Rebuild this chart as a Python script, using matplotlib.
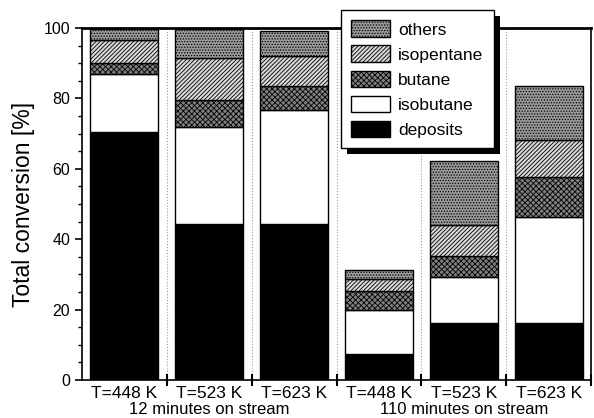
import matplotlib
matplotlib.use("Agg")
import matplotlib.pyplot as plt
from matplotlib.patches import Rectangle
from matplotlib.ticker import MultipleLocator

plt.rcParams['font.family'] = ['Liberation Sans', 'DejaVu Sans']
plt.rcParams['hatch.linewidth'] = 0.6

temps = ["T=448 K", "T=523 K", "T=623 K", "T=448 K", "T=523 K", "T=623 K"]
groups = ["12 minutes on stream", "110 minutes on stream"]

deposits = [70.4, 44.4, 44.4, 7.4, 16.2, 16.2]
isobutane = [16.5, 27.6, 32.2, 12.5, 13.1, 30.2]
butane = [3.1, 7.5, 6.9, 5.5, 6.0, 11.4]
isopentane = [6.6, 11.9, 8.5, 3.4, 8.6, 10.3]
others = [3.1, 8.3, 7.1, 2.5, 18.2, 15.4]

series = [
    ("deposits", deposits, "black", ""),
    ("isobutane", isobutane, "white", ""),
    ("butane", butane, "0.5", "xxxxxx"),
    ("isopentane", isopentane, "0.85", "////////"),
    ("others", others, "0.6", "......"),
]

fig = plt.figure(figsize=(5.94, 4.18), dpi=100)
ax = fig.add_axes([0.138, 0.091, 0.857, 0.842])

x = list(range(len(temps)))
bottom = [0.0] * len(temps)
handles = []
for name, vals, fc, hatch in series:
    bars = ax.bar(x, vals, width=0.8, bottom=bottom, color=fc, hatch=hatch,
                  edgecolor="black", linewidth=1.0, label=name)
    handles.append(bars)
    bottom = [b + v for b, v in zip(bottom, vals)]

# dotted separators between bars
for b in [0.5, 1.5, 2.5, 3.5, 4.5]:
    ax.axvline(b, color="0.6", linestyle=":", linewidth=0.8, zorder=0)

ax.set_xlim(-0.5, 5.5)
ax.set_ylim(0, 100)
ax.yaxis.set_major_locator(MultipleLocator(20))
ax.yaxis.set_minor_locator(MultipleLocator(5))
ax.tick_params(axis="y", direction="out", length=5, width=1.2, labelsize=11.5)
ax.tick_params(axis="y", which="minor", direction="out", length=3, width=1)

ax.set_xticks([0.5, 1.5, 2.5, 3.5, 4.5, 5.5])
ax.set_xticklabels([])
ax.tick_params(axis="x", direction="inout", length=8, width=1.5)
for i, t in enumerate(temps):
    ax.text(i, -1.6, t, ha="center", va="top", fontsize=12.5)
ax.text(1, -6.3, groups[0], ha="center", va="top", fontsize=12)
ax.text(4, -6.3, groups[1], ha="center", va="top", fontsize=12)

ax.set_ylabel("Total conversion [%]", fontsize=16.5, labelpad=6)

for s in ["left", "right", "bottom"]:
    ax.spines[s].set_linewidth(1.2)
ax.spines["top"].set_linewidth(2)

leg = fig.legend(handles[::-1], [s[0] for s in series][::-1],
                 loc="upper left", bbox_to_anchor=(0.574, 0.976),
                 borderaxespad=0, fontsize=12.5, frameon=True, fancybox=False,
                 framealpha=1, edgecolor="black", handlelength=2.2,
                 handleheight=1.1, labelspacing=0.45, borderpad=0.6,
                 handletextpad=0.5)
leg.get_frame().set_linewidth(1.0)
leg.set_zorder(5)

# hard black drop shadow behind the legend box
fig.canvas.draw()
bb = leg.get_window_extent()
shadow = Rectangle((bb.x0 + 6, bb.y0 - 6), bb.width, bb.height,
                   transform=None, facecolor="black", edgecolor="none",
                   zorder=4.9)
fig.patches.append(shadow)

fig.savefig("out.png", dpi=100)
